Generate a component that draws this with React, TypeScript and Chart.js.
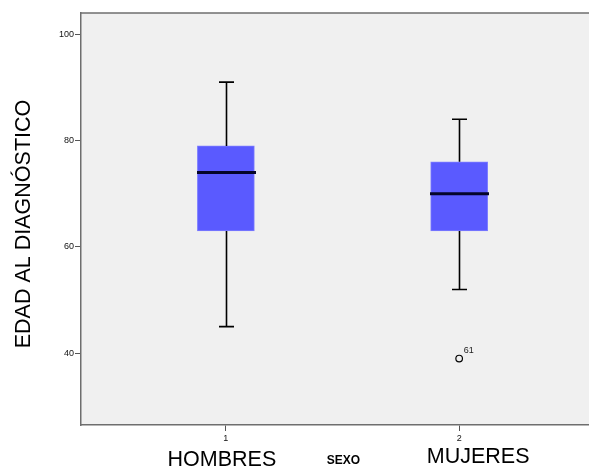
import React, { useEffect, useRef } from 'react';
import { Chart, registerables } from 'chart.js';

Chart.register(...registerables);

// ---- data ----
const CATEGORIES = [1, 2];
const CATEGORY_TICKS = ['1', '2'];
const GROUP_NAMES = ['HOMBRES', 'MUJERES'];
const WHISKER_LOW = [45, 52];
const Q1 = [63, 63];
const MEDIAN = [74, 70];
const Q3 = [79, 76];
const WHISKER_HIGH = [91, 84];
const OUTLIER_CATEGORY = [2];
const OUTLIER_VALUE = [39];
const OUTLIER_CASE = ['61'];
const Y_TICKS = [40, 60, 80, 100];
const Y_TITLE = 'EDAD AL DIAGNÓSTICO';
const X_TITLE = 'SEXO';

// ---- style ----
const FONT = '"Liberation Sans", Arial, Helvetica, sans-serif';
const BOX_COLOR = 'rgb(90, 90, 255)';
const BOX_EDGE = 'rgb(125, 125, 255)';
const PLOT_BG = '#f0f0f0';
const FRAME = '#6e6e6e';
const BOX_WIDTH = 57;
const CAP_WIDTH = 15;
const GROUP_LABEL_DX = [-4, 19];
const GROUP_LABEL_BASELINE = [466, 463];

const boxPlugin = {
  id: 'spssBoxplot',
  beforeDraw(chart: any) {
    const { ctx, chartArea: a } = chart;
    ctx.save();
    ctx.fillStyle = PLOT_BG;
    ctx.fillRect(a.left, a.top, a.right - a.left, a.bottom - a.top);
    ctx.restore();
  },
  afterDatasetsDraw(chart: any) {
    const { ctx } = chart;
    const xs = chart.scales.x;
    const ys = chart.scales.y;
    ctx.save();
    ctx.strokeStyle = '#000';
    CATEGORIES.forEach((c, i) => {
      const cx = Math.round(xs.getPixelForValue(c)) + 0.5;
      const yLo = ys.getPixelForValue(WHISKER_LOW[i]);
      const yQ1 = ys.getPixelForValue(Q1[i]);
      const yMed = ys.getPixelForValue(MEDIAN[i]);
      const yQ3 = ys.getPixelForValue(Q3[i]);
      const yHi = ys.getPixelForValue(WHISKER_HIGH[i]);
      ctx.lineWidth = 1.6;
      ctx.strokeStyle = '#000';
      ctx.beginPath();
      ctx.moveTo(cx, yQ3);
      ctx.lineTo(cx, yHi);
      ctx.moveTo(cx, yQ1);
      ctx.lineTo(cx, yLo);
      ctx.moveTo(cx - CAP_WIDTH / 2, yHi);
      ctx.lineTo(cx + CAP_WIDTH / 2, yHi);
      ctx.moveTo(cx - CAP_WIDTH / 2, yLo);
      ctx.lineTo(cx + CAP_WIDTH / 2, yLo);
      ctx.stroke();
      ctx.lineWidth = 3;
      ctx.strokeStyle = '#05052a';
      ctx.beginPath();
      ctx.moveTo(cx - BOX_WIDTH / 2 - 1, yMed);
      ctx.lineTo(cx + BOX_WIDTH / 2 + 1, yMed);
      ctx.stroke();
    });
    ctx.fillStyle = '#222';
    ctx.font = `9px ${FONT}`;
    ctx.textAlign = 'left';
    ctx.textBaseline = 'alphabetic';
    OUTLIER_CATEGORY.forEach((c, i) => {
      const px = xs.getPixelForValue(c);
      const py = ys.getPixelForValue(OUTLIER_VALUE[i]);
      ctx.fillText(OUTLIER_CASE[i], px + 4.5, py - 5.5);
    });
    ctx.restore();
  },
  afterDraw(chart: any) {
    const { ctx, chartArea: a } = chart;
    const xs = chart.scales.x;
    ctx.save();
    ctx.strokeStyle = FRAME;
    ctx.lineWidth = 1.5;
    ctx.beginPath();
    ctx.moveTo(a.left, a.top);
    ctx.lineTo(a.right, a.top);
    ctx.stroke();
    ctx.fillStyle = '#000';
    ctx.textAlign = 'center';
    ctx.textBaseline = 'alphabetic';
    ctx.font = `21.5px ${FONT}`;
    CATEGORIES.forEach((c, i) => {
      ctx.fillText(GROUP_NAMES[i], xs.getPixelForValue(c) + GROUP_LABEL_DX[i], GROUP_LABEL_BASELINE[i]);
    });
    // y-axis title
    ctx.save();
    ctx.translate(30, 224);
    ctx.rotate(-Math.PI / 2);
    ctx.fillText(Y_TITLE, 0, 0);
    ctx.restore();
    ctx.font = `bold 12px ${FONT}`;
    ctx.fillText(X_TITLE, 343.5, 463.5);
    ctx.restore();
  },
};

export default function App() {
  const ref = useRef<HTMLCanvasElement | null>(null);
  useEffect(() => {
    if (!ref.current) return;
    const chart = new Chart(ref.current, {
      type: 'bar',
      data: {
        datasets: [
          {
            type: 'bar',
            data: CATEGORIES.map((c, i) => ({ x: c, y: [Q1[i], Q3[i]] })) as any,
            backgroundColor: BOX_COLOR,
            borderColor: BOX_EDGE,
            borderWidth: 1,
            borderSkipped: false,
            barThickness: BOX_WIDTH,
          } as any,
          {
            type: 'scatter',
            data: OUTLIER_CATEGORY.map((c, i) => ({ x: c, y: OUTLIER_VALUE[i] })),
            pointRadius: 3.3,
            pointBorderWidth: 1.2,
            borderColor: '#000',
            backgroundColor: 'rgba(0,0,0,0)',
          } as any,
        ],
      },
      options: {
        animation: false,
        responsive: false,
        devicePixelRatio: 1,
        layout: { padding: { left: 0, top: 13, right: 0, bottom: 0 } },
        plugins: { legend: { display: false }, tooltip: { enabled: false } },
        scales: {
          x: {
            type: 'linear',
            min: 0.379,
            max: 2.56,
            offset: false,
            grid: { display: true, drawOnChartArea: false, drawTicks: true, tickLength: 6, tickColor: '#555', offset: false },
            border: { display: true, color: FRAME, width: 1.5 },
            ticks: {
              font: { family: FONT, size: 9 },
              color: '#111',
              padding: 2,
              maxRotation: 0,
              autoSkip: false,
              callback: (v: any) => {
                const k = CATEGORIES.indexOf(Number(v));
                return k >= 0 ? CATEGORY_TICKS[k] : '';
              },
            },
            afterBuildTicks: (s: any) => {
              s.ticks = CATEGORIES.map((v) => ({ value: v }));
            },
            afterFit: (s: any) => {
              s.height = 43;
            },
          },
          y: {
            type: 'linear',
            min: 26.5,
            max: 104,
            beginAtZero: false,
            grid: { display: true, drawOnChartArea: false, drawTicks: true, tickLength: 6, tickColor: '#555' },
            border: { display: true, color: FRAME, width: 1.5 },
            ticks: {
              font: { family: FONT, size: 9 },
              color: '#111',
              padding: 1,
            },
            afterBuildTicks: (s: any) => {
              s.ticks = Y_TICKS.map((v) => ({ value: v }));
            },
            afterFit: (s: any) => {
              s.width = 81;
            },
          },
        },
      } as any,
      plugins: [boxPlugin],
    });
    return () => chart.destroy();
  }, []);
  return (
    <div style={{ position: 'fixed', left: 0, top: 0, width: 589, height: 468, overflow: 'hidden' }}>
      <canvas ref={ref} width={595} height={468} style={{ display: 'block' }} />
    </div>
  );
}
